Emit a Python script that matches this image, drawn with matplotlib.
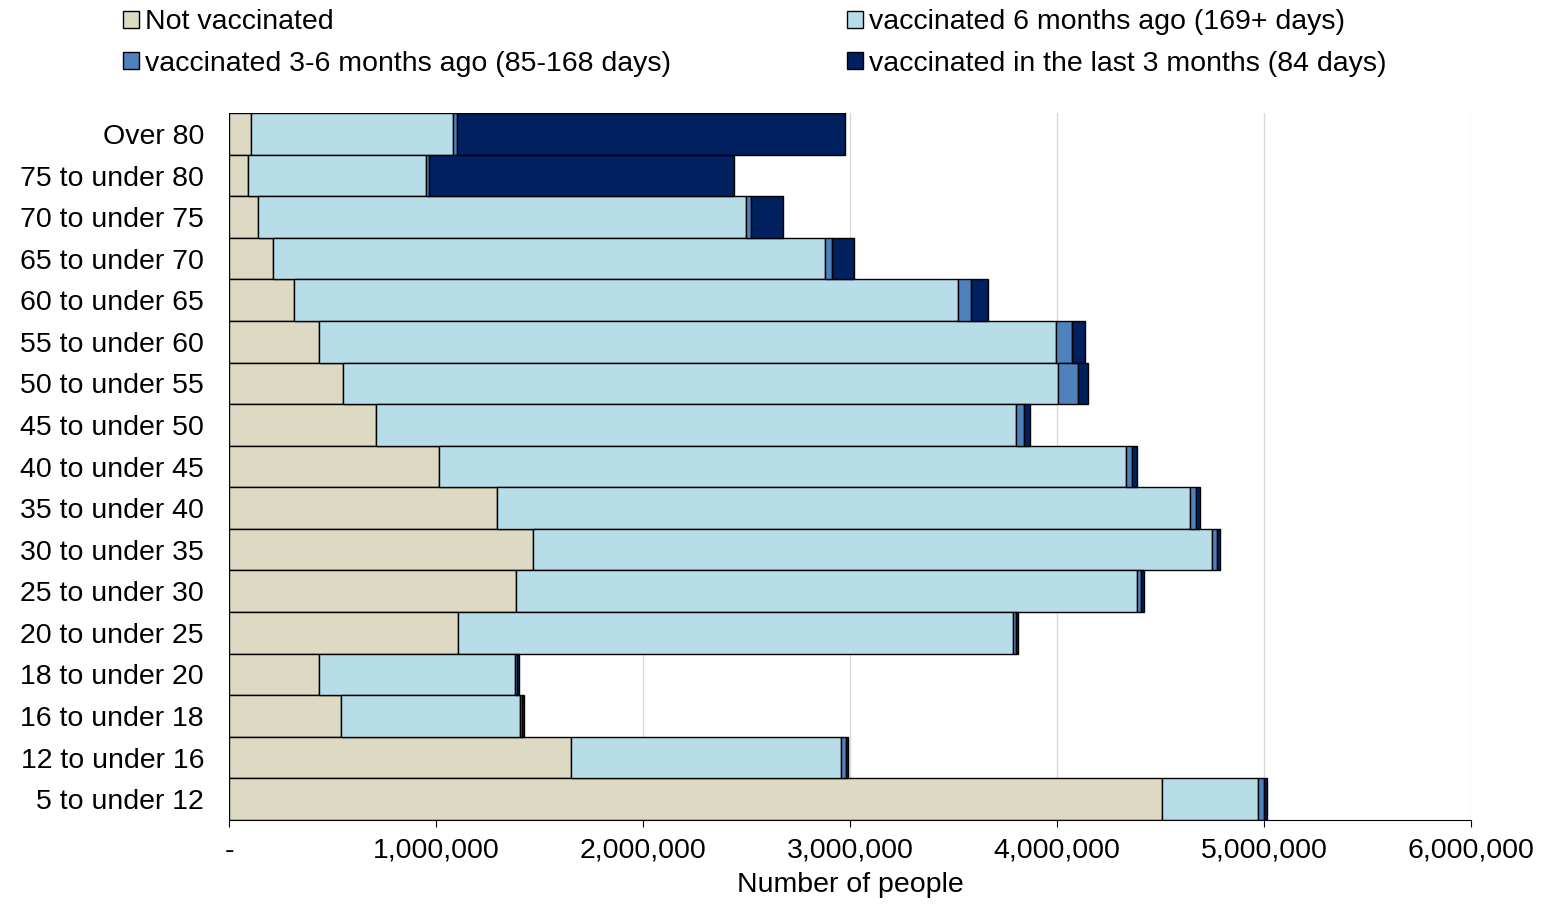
import matplotlib.pyplot as plt
from matplotlib.ticker import FuncFormatter

plt.rcParams['font.family'] = ['Liberation Sans', 'DejaVu Sans']

# age groups, top to bottom as in the chart
groups = ['Over 80', '75 to under 80', '70 to under 75', '65 to under 70', '60 to under 65',
          '55 to under 60', '50 to under 55', '45 to under 50', '40 to under 45', '35 to under 40',
          '30 to under 35', '25 to under 30', '20 to under 25', '18 to under 20', '16 to under 18',
          '12 to under 16', '5 to under 12']

# values in people
not_vacc = [106e3, 92e3, 140e3, 213e3, 314e3, 435e3, 551e3, 710e3, 1014e3, 1295e3,
            1469e3, 1386e3, 1106e3, 435e3, 541e3, 1652e3, 4507e3]
vacc_6m = [976e3, 860e3, 2358e3, 2666e3, 3208e3, 3560e3, 3454e3, 3092e3, 3319e3, 3348e3,
           3280e3, 3000e3, 2681e3, 947e3, 865e3, 1305e3, 464e3]
vacc_3_6m = [19e3, 14e3, 24e3, 34e3, 63e3, 77e3, 96e3, 39e3, 29e3, 28e3,
             24e3, 20e3, 15e3, 9e3, 9e3, 24e3, 29e3]
vacc_3m = [1875e3, 1474e3, 154e3, 106e3, 82e3, 63e3, 49e3, 29e3, 24e3, 20e3,
           14e3, 14e3, 10e3, 10e3, 10e3, 9e3, 14e3]

series = [
    ('Not vaccinated', not_vacc, '#ddd9c3'),
    ('vaccinated 6 months ago (169+ days)', vacc_6m, '#b7dde8'),
    ('vaccinated 3-6 months ago (85-168 days)', vacc_3_6m, '#4f81bd'),
    ('vaccinated in the last 3 months (84 days)', vacc_3m, '#002060'),
]

fs = 20.5

fig = plt.figure(figsize=(15.52, 9.13), dpi=100)
ax = fig.add_axes([0.1476, 0.102, 0.8004, 0.774])

y = list(range(len(groups)))[::-1]
left = [0.0] * len(groups)
handles = []
for name, vals, col in series:
    h = ax.barh(y, vals, left=left, height=1.0, color=col, edgecolor='black', linewidth=1, label=name)
    handles.append(h)
    left = [l + v for l, v in zip(left, vals)]

ax.set_xlim(0, 6e6)
ax.set_ylim(-0.5, len(groups) - 0.5)
ax.set_yticks(y)
ax.set_yticklabels(groups, fontsize=fs)
ax.set_xticks([i * 1e6 for i in range(7)])
ax.xaxis.set_major_formatter(FuncFormatter(lambda v, p: '-' if v == 0 else f'{int(v):,}'))
ax.tick_params(axis='x', labelsize=fs, length=5, pad=8)
ax.tick_params(axis='y', length=0, pad=18)
ax.grid(axis='x', color='#d9d9d9', linewidth=1)
ax.set_axisbelow(True)
for s in ['top', 'right', 'left']:
    ax.spines[s].set_visible(False)
ax.set_xlabel('Number of people', fontsize=fs, labelpad=6)

order = [handles[0], handles[2], handles[1], handles[3]]
fig.legend(order, [h.get_label() for h in order], ncol=2, loc='upper left',
           bbox_to_anchor=(0.063, 1.018), frameon=False, fontsize=fs,
           handlelength=0.55, handleheight=0.55, handletextpad=0.2, columnspacing=6.2, labelspacing=0.55)

fig.savefig('out.png')
